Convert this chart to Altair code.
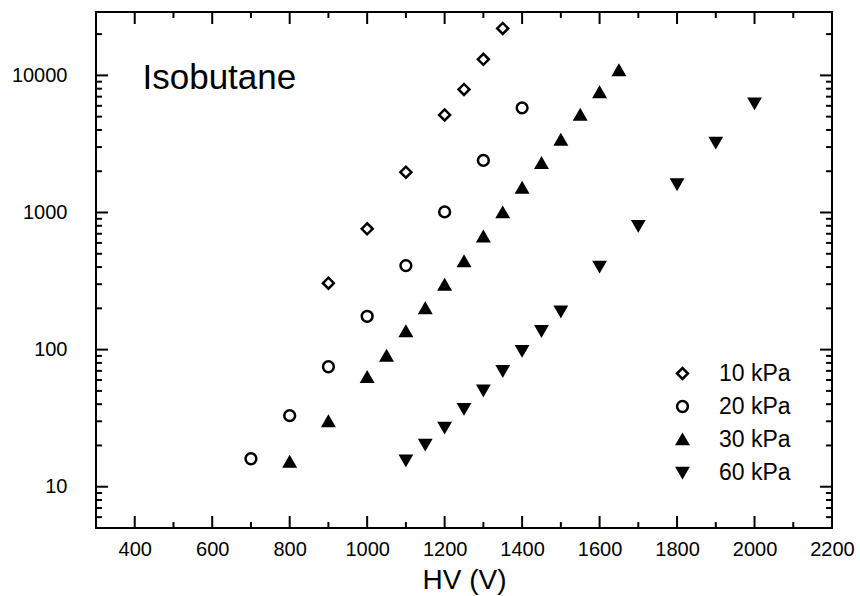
import altair as alt
import pandas as pd

# ---- data ----
series_names = ["10 kPa", "20 kPa", "30 kPa", "60 kPa"]

hv_10 = [900, 1000, 1100, 1200, 1250, 1300, 1350]
gain_10 = [305, 760, 1970, 5150, 7900, 13100, 22000]

hv_20 = [700, 800, 900, 1000, 1100, 1200, 1300, 1400]
gain_20 = [16, 33, 75, 175, 410, 1010, 2400, 5800]

hv_30 = [800, 900, 1000, 1050, 1100, 1150, 1200, 1250, 1300, 1350, 1400, 1450, 1500, 1550, 1600, 1650]
gain_30 = [15.2, 30, 63, 90, 136, 200, 297, 440, 668, 1000, 1510, 2290, 3390, 5150, 7530, 10900]

hv_60 = [1100, 1150, 1200, 1250, 1300, 1350, 1400, 1450, 1500, 1600, 1700, 1800, 1900, 2000]
gain_60 = [15.6, 20.3, 27, 37, 50.5, 70, 98, 137, 190, 404, 800, 1610, 3240, 6270]

x_labels = [400, 600, 800, 1000, 1200, 1400, 1600, 1800, 2000, 2200]
x_minor = [500, 700, 900, 1100, 1300, 1500, 1700, 1900, 2100]
y_labels = [10, 100, 1000, 10000]
y_minor = [6, 7, 8, 9, 20, 30, 40, 50, 60, 70, 80, 90,
           200, 300, 400, 500, 600, 700, 800, 900,
           2000, 3000, 4000, 5000, 6000, 7000, 8000, 9000, 20000]

annot_text = ["Isobutane"]
annot_hv = [420]
annot_gain = [7960]

# ---- tables ----
rows = []
for name, xs, ys in zip(series_names, [hv_10, hv_20, hv_30, hv_60], [gain_10, gain_20, gain_30, gain_60]):
    for a, b in zip(xs, ys):
        rows.append({"hv": a, "gain": b, "series": name})
df = pd.DataFrame(rows)

W, H = 736, 516
FONT = "Liberation Sans"

xscale = alt.Scale(domain=[300, 2200], nice=False, zero=False)
yscale = alt.Scale(type="log", domain=[5, 29000], nice=False)

xaxis = alt.Axis(values=x_labels, format="d", ticks=False, domain=False, grid=False,
                 labelFontSize=20, labelFont=FONT, labelColor="black", labelPadding=11,
                 labelFlush=False, labelOverlap=False,
                 title="HV (V)", titleFontSize=28, titleFont=FONT, titleFontWeight="normal",
                 titleColor="black", titlePadding=7)
yaxis = alt.Axis(values=y_labels, format="d", ticks=False, domain=False, grid=False,
                 labelFontSize=20, labelFont=FONT, labelColor="black", labelPadding=29,
                 labelFlush=False, title="")

leg = alt.Legend(
    title=None, orient="none", legendX=575, legendY=350, padding=0,
    labelFontSize=23, labelFont=FONT, labelColor="black", labelOffset=25,
    rowPadding=9, symbolStrokeWidth=2.5, symbolStrokeColor="black",
)

points = alt.Chart(df).mark_point(filled=True, strokeWidth=2.5, opacity=1).encode(
    x=alt.X("hv:Q", scale=xscale, axis=xaxis, title="HV (V)"),
    y=alt.Y("gain:Q", scale=yscale, axis=yaxis, title=""),
    shape=alt.Shape("series:N", scale=alt.Scale(domain=series_names,
                    range=["diamond", "circle", "triangle-up", "triangle-down"]), legend=leg),
    fill=alt.Fill("series:N", scale=alt.Scale(domain=series_names,
                  range=["white", "white", "black", "black"]), legend=leg),
    stroke=alt.Stroke("series:N", scale=alt.Scale(domain=series_names,
                      range=["black", "black", "black", "black"]), legend=leg),
    size=alt.Size("series:N", scale=alt.Scale(domain=series_names,
                  range=[120, 110, 150, 150]), legend=leg),
)

layers = [points]

def xticks(vals, L):
    d = pd.DataFrame({"v": vals})
    bottom = alt.Chart(d).mark_rule(color="black", strokeWidth=2).encode(
        x=alt.X("v:Q", scale=xscale, axis=xaxis, title="HV (V)"), y=alt.value(H), y2=alt.value(H - L))
    top = alt.Chart(d).mark_rule(color="black", strokeWidth=2).encode(
        x=alt.X("v:Q", scale=xscale, axis=xaxis, title="HV (V)"), y=alt.value(0), y2=alt.value(L))
    return [bottom, top]

def yticks(vals, L):
    d = pd.DataFrame({"v": vals})
    left = alt.Chart(d).mark_rule(color="black", strokeWidth=2).encode(
        y=alt.Y("v:Q", scale=yscale, axis=yaxis, title=""), x=alt.value(0), x2=alt.value(L))
    right = alt.Chart(d).mark_rule(color="black", strokeWidth=2).encode(
        y=alt.Y("v:Q", scale=yscale, axis=yaxis, title=""), x=alt.value(W), x2=alt.value(W - L))
    return [left, right]

layers += xticks(x_labels, 12) + xticks(x_minor, 6)
layers += yticks(y_labels, 12) + yticks(y_minor, 6)

annot = alt.Chart(pd.DataFrame({"hv": annot_hv, "gain": annot_gain, "t": annot_text})).mark_text(
    align="left", baseline="alphabetic", fontSize=35, font=FONT, color="black").encode(
    x=alt.X("hv:Q", scale=xscale, axis=xaxis, title="HV (V)"),
    y=alt.Y("gain:Q", scale=yscale, axis=yaxis, title=""), text="t:N")
layers.append(annot)

chart = alt.layer(*layers).properties(
    width=W, height=H,
    autosize=alt.AutoSizeParams(type="none"),
    padding={"left": 96, "top": 12, "right": 28, "bottom": 68},
    background="white",
).configure_view(stroke="black", strokeWidth=2)

chart.save("out.html", embed_options={"renderer": "svg", "actions": False})
